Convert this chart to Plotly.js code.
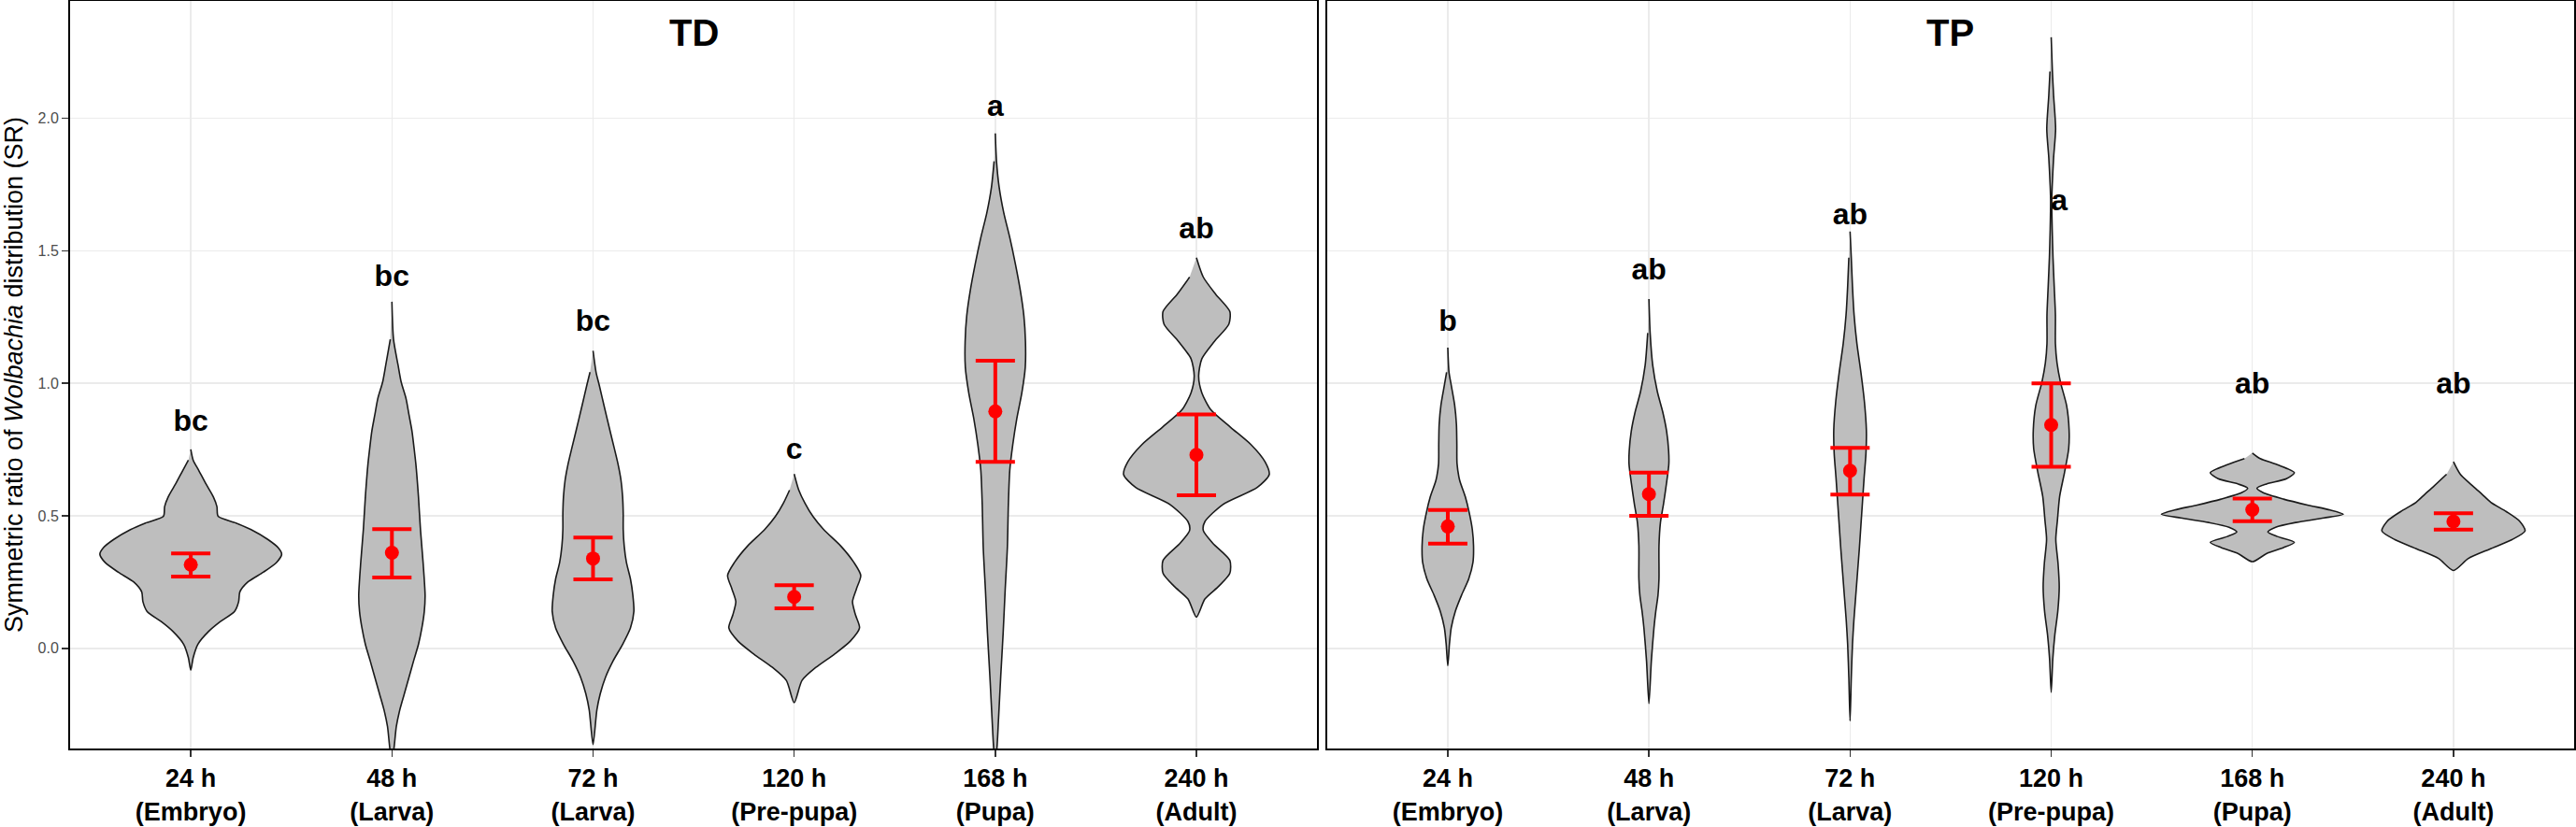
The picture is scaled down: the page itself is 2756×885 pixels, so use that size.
<!DOCTYPE html>
<html>
<head>
<meta charset="utf-8">
<script src="https://cdn.plot.ly/plotly-3.0.1.min.js"></script>
<style>
  html, body { margin: 0; padding: 0; background: #fff; }
  #chart { width: 2756px; height: 885px; }
</style>
</head>
<body>
<div id="chart"></div>
<script>
// stages on the x axis (same for both panels)
const stagePos = [1, 2, 3, 4, 5, 6]
const stageLabels = ['24 h<br>(Embryo)', '48 h<br>(Larva)', '72 h<br>(Larva)',
                     '120 h<br>(Pre-pupa)', '168 h<br>(Pupa)', '240 h<br>(Adult)']

// TD: mean and error bar ends
const tdMean  = [0.316, 0.361, 0.339, 0.194, 0.894, 0.730]
const tdUpper = [0.358, 0.450, 0.418, 0.238, 1.085, 0.883]
const tdLower = [0.271, 0.267, 0.260, 0.151, 0.704, 0.578]
const tdLetters = ['bc', 'bc', 'bc', 'c', 'a', 'ab']
const tdLetterY = [0.85, 1.395, 1.225, 0.743, 2.036, 1.576]

// TP: mean and error bar ends
const tpMean  = [0.460, 0.582, 0.670, 0.843, 0.523, 0.479]
const tpUpper = [0.522, 0.663, 0.757, 1.000, 0.565, 0.510]
const tpLower = [0.395, 0.500, 0.580, 0.685, 0.480, 0.448]
const tpLetters = ['b', 'ab', 'ab', 'a', 'ab', 'ab']
const tpLetterY = [1.225, 1.42, 1.627, 1.681, 0.99, 0.99]
const tpLetterDx = [0, 0, 0, 0.04, 0, 0]

// violin density profiles: SR levels (top to bottom) and half widths (in stage units)
const tdDensY = [
  [0.751,0.71,0.671,0.621,0.572,0.535,0.498,0.473,0.448,0.411,0.38,0.355,0.324,0.287,0.25,0.213,0.176,0.139,0.101,0.064,0.015,-0.035,-0.082],
  [1.308,1.166,1.067,1.005,0.943,0.881,0.819,0.757,0.696,0.572,0.448,0.324,0.2,0.139,0.077,0.015,-0.047,-0.109,-0.171,-0.233,-0.295,-0.379,-0.42],
  [1.123,1.042,0.993,0.918,0.819,0.757,0.696,0.634,0.572,0.51,0.448,0.386,0.324,0.262,0.2,0.139,0.077,0.015,-0.047,-0.109,-0.171,-0.233,-0.363],
  [0.658,0.597,0.547,0.498,0.448,0.386,0.324,0.275,0.225,0.176,0.126,0.077,0.027,-0.022,-0.072,-0.121,-0.205],
  [1.943,1.838,1.741,1.644,1.547,1.45,1.352,1.255,1.158,1.061,0.964,0.867,0.769,0.672,0.543,0.381,0.219,0.057,-0.105,-0.267,-0.377,-0.42],
  [1.474,1.401,1.336,1.271,1.223,1.158,1.093,1.028,0.964,0.899,0.834,0.769,0.704,0.656,0.607,0.543,0.478,0.445,0.397,0.332,0.283,0.235,0.186,0.118]
]
const tdDensW = [
  [0,0.012,0.04,0.075,0.112,0.13,0.136,0.225,0.30,0.383,0.434,0.452,0.426,0.36,0.283,0.244,0.238,0.217,0.147,0.089,0.035,0.012,0],
  [0,0.008,0.031,0.046,0.07,0.085,0.1,0.11,0.119,0.132,0.142,0.155,0.165,0.161,0.149,0.132,0.108,0.085,0.062,0.039,0.022,0.01,0],
  [0,0.015,0.031,0.054,0.085,0.105,0.124,0.139,0.147,0.15,0.15,0.155,0.166,0.186,0.198,0.203,0.186,0.147,0.1,0.062,0.036,0.019,0],
  [0,0.023,0.054,0.093,0.147,0.232,0.297,0.331,0.31,0.29,0.305,0.325,0.279,0.2,0.108,0.039,0],
  [0,0.006,0.019,0.042,0.073,0.1,0.124,0.142,0.15,0.149,0.132,0.107,0.087,0.072,0.065,0.06,0.049,0.039,0.027,0.016,0.008,0],
  [0,0.034,0.096,0.166,0.161,0.089,0.027,0.011,0.027,0.073,0.17,0.271,0.341,0.362,0.302,0.132,0.042,0.034,0.081,0.166,0.166,0.112,0.042,0]
]
const tpDensY = [
  [1.135,1.042,0.993,0.918,0.844,0.77,0.696,0.634,0.572,0.51,0.448,0.386,0.324,0.262,0.2,0.139,0.077,0.015,-0.066],
  [1.318,1.19,1.067,0.968,0.894,0.819,0.745,0.696,0.621,0.547,0.473,0.386,0.262,0.2,0.139,0.077,-0.047,-0.208],
  [1.573,1.474,1.366,1.258,1.15,1.041,0.933,0.825,0.735,0.645,0.555,0.465,0.375,0.285,0.195,0.105,0.014,-0.112,-0.274],
  [2.306,2.177,2.086,1.96,1.852,1.744,1.69,1.582,1.474,1.366,1.258,1.15,1.077,1.005,0.915,0.825,0.753,0.663,0.573,0.483,0.411,0.321,0.231,0.141,0.05,-0.04,-0.166],
  [0.737,0.716,0.693,0.663,0.64,0.62,0.604,0.587,0.563,0.54,0.522,0.506,0.492,0.475,0.457,0.439,0.422,0.4,0.38,0.357,0.327],
  [0.704,0.657,0.61,0.581,0.551,0.516,0.48,0.443,0.41,0.375,0.339,0.294]
]
const tpDensW = [
  [0,0.006,0.017,0.034,0.043,0.045,0.046,0.059,0.087,0.107,0.122,0.128,0.125,0.104,0.068,0.037,0.017,0.008,0],
  [0,0.006,0.019,0.042,0.068,0.088,0.098,0.099,0.087,0.073,0.057,0.05,0.05,0.045,0.034,0.025,0.012,0],
  [0,0.006,0.012,0.02,0.034,0.054,0.071,0.081,0.079,0.07,0.062,0.054,0.046,0.037,0.028,0.019,0.012,0.006,0],
  [0,0.006,0.012,0.022,0.012,0.005,0.003,0.005,0.009,0.015,0.021,0.021,0.029,0.046,0.077,0.089,0.087,0.066,0.042,0.031,0.023,0.034,0.04,0.033,0.018,0.008,0],
  [0,0.039,0.124,0.209,0.17,0.07,0.023,0.054,0.155,0.279,0.387,0.452,0.356,0.217,0.116,0.077,0.124,0.209,0.155,0.07,0],
  [0,0.034,0.1,0.143,0.186,0.263,0.329,0.356,0.291,0.182,0.074,0]
]

const FONT = 'Arial, "Liberation Sans", sans-serif'

// one violin outline: right side going down, left side coming back up
function violinTrace(pos, ys, ws, xa, ya) {
  let x = [], y = []
  for (let i = 0; i < ys.length; i++) { x.push(pos + ws[i]); y.push(ys[i]) }
  for (let i = ys.length - 2; i > 0; i--) { x.push(pos - ws[i]); y.push(ys[i]) }
  return {
    type: 'scatter', mode: 'lines', x: x, y: y, xaxis: xa, yaxis: ya,
    fill: 'toself', fillcolor: '#BEBEBE',
    line: { color: '#1a1a1a', width: 1.6, shape: 'spline', smoothing: 0.7 },
    hoverinfo: 'skip', showlegend: false
  }
}

function panelTraces(densY, densW, mean, upper, lower, letters, letterY, letterDx, xa, ya) {
  let traces = []
  stagePos.forEach((p, i) => traces.push(violinTrace(p, densY[i], densW[i], xa, ya)))
  traces.push({
    type: 'scatter', mode: 'markers', x: stagePos, y: mean, xaxis: xa, yaxis: ya,
    marker: { color: '#FF0000', size: 15 },
    error_y: {
      type: 'data', symmetric: false,
      array: upper.map((u, i) => u - mean[i]),
      arrayminus: mean.map((m, i) => m - lower[i]),
      color: '#FF0000', thickness: 4, width: 21
    },
    showlegend: false
  })
  traces.push({
    type: 'scatter', mode: 'text', xaxis: xa, yaxis: ya,
    x: stagePos.map((p, i) => p + (letterDx ? letterDx[i] : 0)), y: letterY, text: letters,
    textposition: 'middle center',
    textfont: { family: FONT, size: 32, color: '#000', weight: 'bold' },
    cliponaxis: false, showlegend: false
  })
  return traces
}

let data = panelTraces(tdDensY, tdDensW, tdMean, tdUpper, tdLower, tdLetters, tdLetterY, null, 'x', 'y')
  .concat(panelTraces(tpDensY, tpDensW, tpMean, tpUpper, tpLower, tpLetters, tpLetterY, tpLetterDx, 'x2', 'y2'))

let xBase = {
  range: [0.4, 6.6], tickvals: stagePos, ticktext: stageLabels,
  tickfont: { family: FONT, size: 27, color: '#000', weight: 'bold' },
  ticks: 'outside', ticklen: 7, tickwidth: 1.5, tickcolor: '#333',
  showgrid: true, gridcolor: '#EBEBEB', gridwidth: 1.5,
  showline: true, mirror: true, linecolor: '#000', linewidth: 2,
  zeroline: false, fixedrange: true
}
let yBase = {
  range: [-0.378, 2.443],
  tickvals: [0, 0.5, 1, 1.5, 2], ticktext: ['0.0', '0.5', '1.0', '1.5', '2.0'],
  showgrid: true, gridcolor: '#EBEBEB', gridwidth: 1.5,
  showline: true, mirror: true, linecolor: '#000', linewidth: 2,
  zeroline: false, fixedrange: true
}

let layout = {
  width: 2756, height: 885,
  margin: { l: 75, r: 2, t: 1, b: 84 },
  paper_bgcolor: '#fff', plot_bgcolor: '#fff',
  font: { family: FONT },
  showlegend: false,
  xaxis: Object.assign({}, xBase, { domain: [0, 0.498], anchor: 'y' }),
  xaxis2: Object.assign({}, xBase, { domain: [0.502, 1], anchor: 'y2' }),
  yaxis: Object.assign({}, yBase, {
    anchor: 'x',
    tickfont: { family: FONT, size: 16, color: '#4D4D4D' },
    ticks: 'outside', ticklen: 7, tickwidth: 1.5, tickcolor: '#333',
    title: {
      text: 'Symmetric ratio of <i>Wolbachia</i> distribution (SR)',
      font: { family: FONT, size: 27, color: '#000' },
      standoff: 8
    }
  }),
  yaxis2: Object.assign({}, yBase, { anchor: 'x2', matches: 'y', showticklabels: false, ticks: '' }),
  annotations: [
    { text: 'TD', xref: 'x domain', yref: 'y domain', x: 0.5, y: 0.957, yanchor: 'middle',
      showarrow: false, font: { family: FONT, size: 40, color: '#000', weight: 'bold' } },
    { text: 'TP', xref: 'x2 domain', yref: 'y2 domain', x: 0.5, y: 0.957, yanchor: 'middle',
      showarrow: false, font: { family: FONT, size: 40, color: '#000', weight: 'bold' } }
  ]
}

Plotly.newPlot('chart', data, layout, { displayModeBar: false, staticPlot: true })
</script>
</body>
</html>
